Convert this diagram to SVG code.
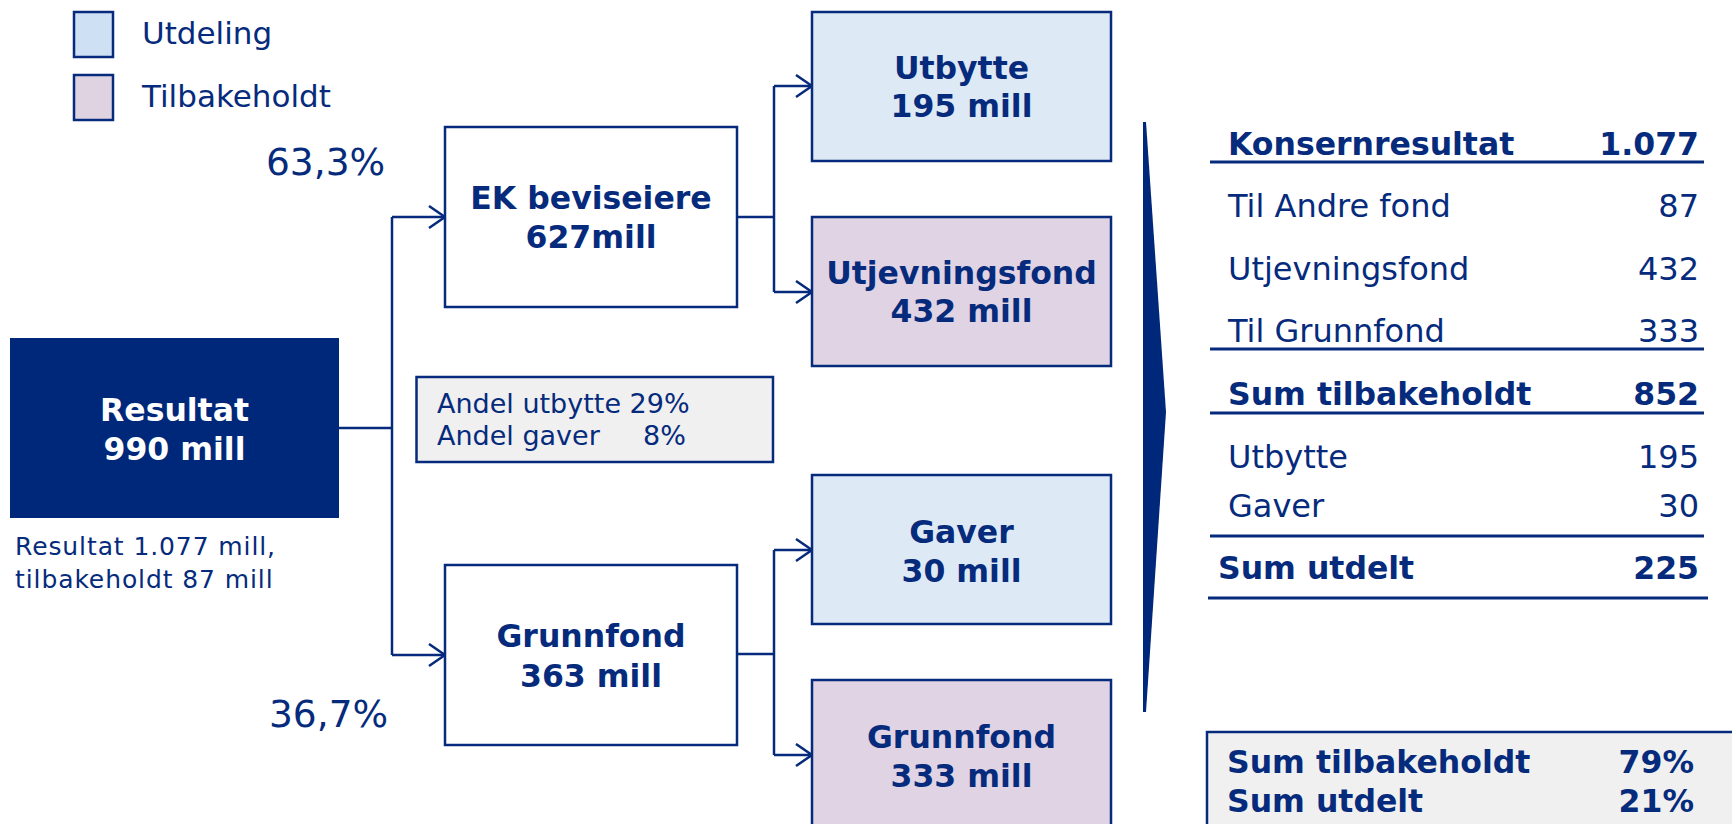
<svg xmlns="http://www.w3.org/2000/svg" width="1732" height="824" viewBox="0 0 1732 824">
<defs>
<style>
text{font-family:"DejaVu Sans","Liberation Sans",sans-serif;fill:#062b7c;}
.b{font-weight:bold;font-size:31.5px;text-anchor:middle;}
.tb{font-weight:bold;font-size:31.5px;}
.tr{font-size:32px;}
.n{text-anchor:end;}
.box{stroke:#062b7c;stroke-width:2.5;}
.blue{fill:#dde9f5;}
.pink{fill:#e0d3e3;}
.white{fill:#ffffff;}
.grey{fill:#f0f0f0;}
.con{fill:none;stroke:#062b7c;stroke-width:2.5;}
.rule{stroke:#062b7c;stroke-width:3;}
</style>
<marker id="arr" markerUnits="userSpaceOnUse" markerWidth="22" markerHeight="26" refX="18" refY="12" orient="auto" viewBox="0 0 22 26">
<path d="M2,1 L18,12 L2,23" fill="none" stroke="#062b7c" stroke-width="2.5"/>
</marker>
</defs>
<rect width="1732" height="824" fill="#ffffff"/>

<g id="legend">
<rect x="74" y="12" width="39" height="45" fill="#cee1f4" class="box" stroke-width="2"/>
<text x="142" y="44" style="font-size:31px">Utdeling</text>
<rect x="74" y="75" width="39" height="45" fill="#dfd3e2" class="box" stroke-width="2"/>
<text x="142" y="107" style="font-size:31px">Tilbakeholdt</text>
</g>

<g id="pct">
<text x="266" y="175" style="font-size:37.5px">63,3%</text>
<text x="269" y="727" style="font-size:37.5px">36,7%</text>
</g>

<g id="connectors">
<path class="con" d="M339,428 H392"/>
<path class="con" d="M392,217 V655"/>
<path class="con" d="M392,217 H445" marker-end="url(#arr)"/>
<path class="con" d="M392,655 H445" marker-end="url(#arr)"/>
<path class="con" d="M737,217 H774"/>
<path class="con" d="M774,86 V292"/>
<path class="con" d="M774,86 H812" marker-end="url(#arr)"/>
<path class="con" d="M774,292 H812" marker-end="url(#arr)"/>
<path class="con" d="M737,654 H774"/>
<path class="con" d="M774,550 V755"/>
<path class="con" d="M774,550 H812" marker-end="url(#arr)"/>
<path class="con" d="M774,755 H812" marker-end="url(#arr)"/>
</g>

<g id="resultat">
<rect x="10" y="338" width="329" height="180" fill="#00287a"/>
<text class="b" x="174.5" y="421" style="fill:#ffffff">Resultat</text>
<text class="b" x="174.5" y="460" style="fill:#ffffff">990 mill</text>
</g>

<g id="note">
<text x="15" y="555" style="font-size:25px;letter-spacing:0.9px">Resultat 1.077 mill,</text>
<text x="15" y="588" style="font-size:25px;letter-spacing:0.9px">tilbakeholdt 87 mill</text>
</g>

<g id="ek">
<rect x="445" y="127" width="292" height="180" class="box white"/>
<text class="b" x="591" y="209">EK beviseiere</text>
<text class="b" x="591" y="248">627mill</text>
</g>

<g id="grunnfond-left">
<rect x="445" y="565" width="292" height="180" class="box white"/>
<text class="b" x="591" y="647">Grunnfond</text>
<text class="b" x="591" y="687">363 mill</text>
</g>

<g id="andel">
<rect x="416.5" y="377" width="356.5" height="85" class="box grey" stroke-width="2"/>
<text x="437" y="413" style="font-size:27px">Andel utbytte 29%</text>
<text x="437" y="445" style="font-size:27px">Andel gaver<tspan x="643">8%</tspan></text>
</g>

<g id="utbytte">
<rect x="812" y="12" width="299" height="149" class="box blue"/>
<text class="b" x="961.5" y="79">Utbytte</text>
<text class="b" x="961.5" y="117">195 mill</text>
</g>

<g id="utjevningsfond">
<rect x="812" y="217" width="299" height="149" class="box pink"/>
<text class="b" x="961.5" y="284">Utjevningsfond</text>
<text class="b" x="961.5" y="322">432 mill</text>
</g>

<g id="gaver">
<rect x="812" y="475" width="299" height="149" class="box blue"/>
<text class="b" x="961.5" y="543">Gaver</text>
<text class="b" x="961.5" y="582">30 mill</text>
</g>

<g id="grunnfond-right">
<rect x="812" y="680" width="299" height="150" class="box pink"/>
<text class="b" x="961.5" y="748">Grunnfond</text>
<text class="b" x="961.5" y="787">333 mill</text>
</g>

<g id="wedge">
<polygon points="1143,122 1146,122 1166,412 1146,712 1143,712" fill="#00287a"/>
</g>

<g id="table">
<text class="tb" x="1228" y="155">Konsernresultat</text>
<text class="tb n" x="1699" y="155">1.077</text>
<line class="rule" x1="1210" y1="162" x2="1704" y2="162"/>
<text class="tr" x="1228" y="217">Til Andre fond</text>
<text class="tr n" x="1699" y="217">87</text>
<text class="tr" x="1228" y="280">Utjevningsfond</text>
<text class="tr n" x="1699" y="280">432</text>
<text class="tr" x="1228" y="342">Til Grunnfond</text>
<text class="tr n" x="1699" y="342">333</text>
<line class="rule" x1="1210" y1="349" x2="1704" y2="349"/>
<text class="tb" x="1228" y="405">Sum tilbakeholdt</text>
<text class="tb n" x="1699" y="405">852</text>
<line class="rule" x1="1210" y1="413" x2="1704" y2="413"/>
<text class="tr" x="1228" y="468">Utbytte</text>
<text class="tr n" x="1699" y="468">195</text>
<text class="tr" x="1228" y="517">Gaver</text>
<text class="tr n" x="1699" y="517">30</text>
<line class="rule" x1="1210" y1="536" x2="1704" y2="536"/>
<text class="tb" x="1218" y="579">Sum utdelt</text>
<text class="tb n" x="1699" y="579">225</text>
<line class="rule" x1="1208" y1="598" x2="1708" y2="598"/>
</g>

<g id="summary">
<rect x="1207" y="732" width="540" height="100" class="box grey"/>
<text class="tb" x="1227" y="773">Sum tilbakeholdt</text>
<text class="tb n" x="1694" y="773">79%</text>
<text class="tb" x="1227" y="812">Sum utdelt</text>
<text class="tb n" x="1694" y="812">21%</text>
</g>
</svg>
